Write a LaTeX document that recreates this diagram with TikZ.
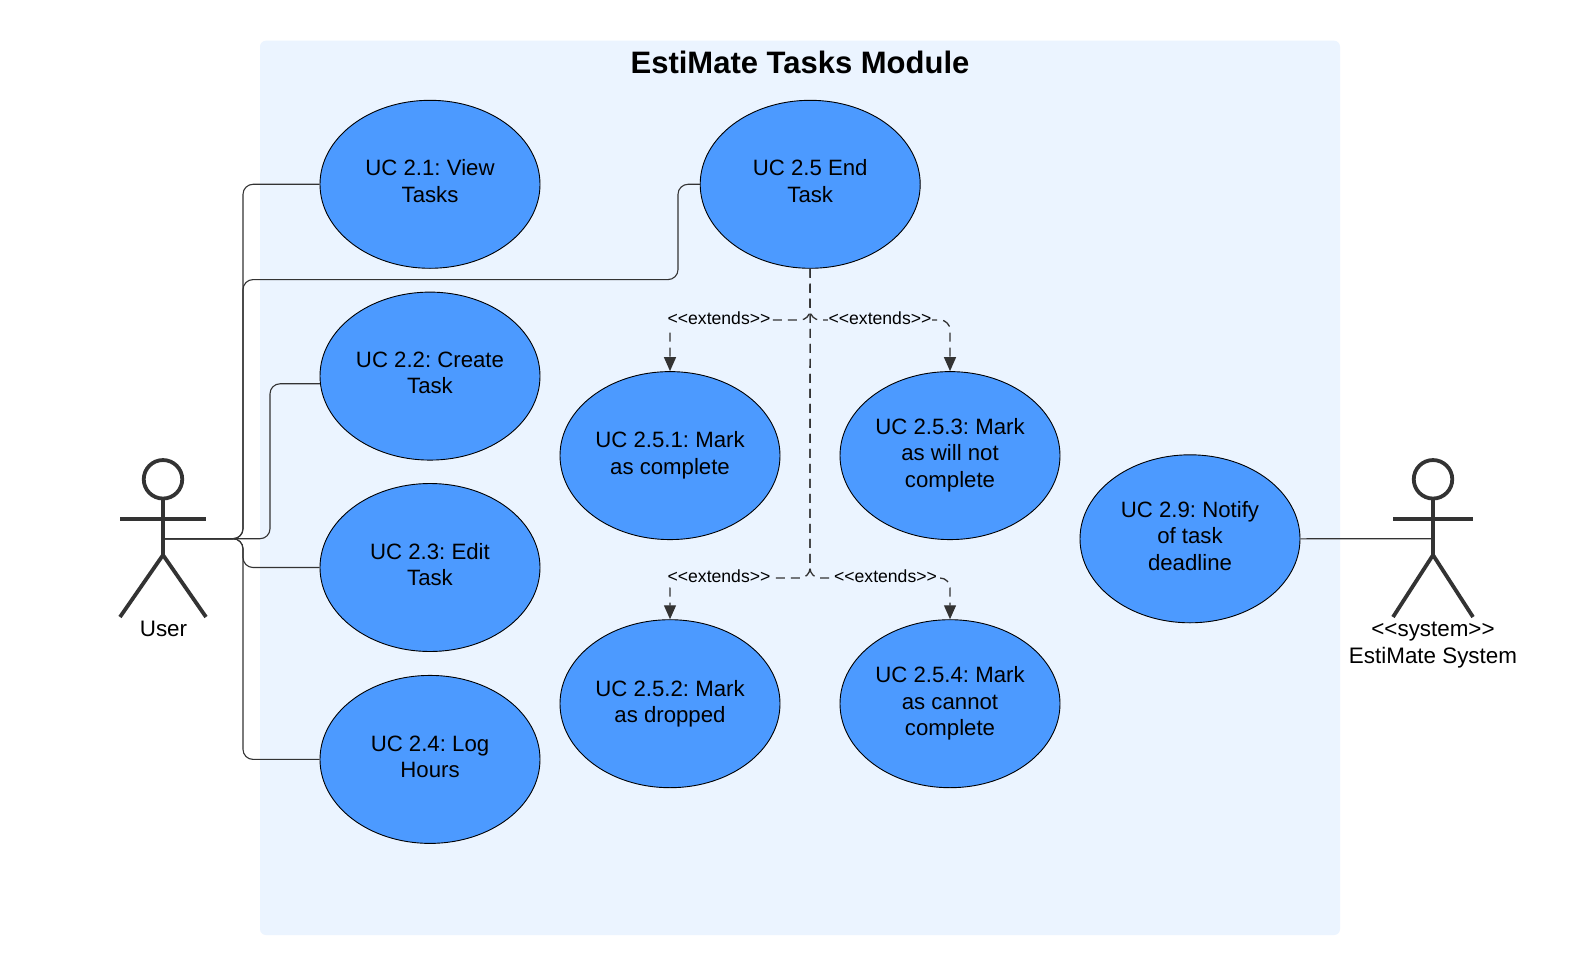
\documentclass[tikz,border=0pt]{standalone}
\usepackage{fontspec}
\setmainfont{Liberation Sans}
\usetikzlibrary{shapes.geometric,arrows.meta}
\definecolor{panelc}{HTML}{EBF4FF}
\definecolor{ucblue}{HTML}{4C9AFF}
\definecolor{inkc}{HTML}{333333}
\tikzset{
  uc/.style={ellipse,draw=black,line width=0.9pt,fill=ucblue,minimum width=220pt,minimum height=168pt,inner sep=0pt},
  uct/.style={align=center,inner sep=0pt,text=black,font=\frenchspacing\fontsize{22.2}{26.5}\selectfont},
  conn/.style={draw=inkc,line width=1.1pt,rounded corners=10pt},
  ext/.style={draw=inkc,line width=1.3pt,rounded corners=10pt,dash pattern=on 9pt off 6pt},
  extarrow/.style={ext,-{Triangle[length=14pt,width=12pt,fill=inkc]}},
  extlabel/.style={fill=panelc,inner xsep=1pt,inner ysep=3pt,font=\fontsize{17.6}{20}\selectfont,text=black},
  limb/.style={draw=inkc,line width=3.8pt},
  actortext/.style={font=\fontsize{22.4}{26.5}\selectfont,align=center,text=black,inner sep=0pt},
}
\newcommand{\ltlt}{{<}{<}}
\newcommand{\gtgt}{{>}{>}}
\begin{document}
\begin{tikzpicture}[x=1pt,y=-1pt]
\useasboundingbox (0,0) rectangle (1594,976);
\fill[white] (0,0) rectangle (1594,976);
\fill[panelc,rounded corners=6pt] (260,40.7) rectangle (1340,935);
\node[font=\bfseries\fontsize{31}{36}\selectfont,inner sep=0pt] (title) at (800,62.5) {EstiMate Tasks Module};

% positions
\coordinate (uhip) at (163,538.7);
\coordinate (shand) at (1433,538.7);
\coordinate (busa) at (243,538.7);
\coordinate (busb) at (270,538.7);
\coordinate (elbow) at (678,279.6);
\coordinate (j1) at (810,320);
\coordinate (j2) at (810,578);

% use cases
\node[uc,label={[uct,yshift=3.3pt]center:{UC 2.1: View\\Tasks}}] (e21) at (430,184.3) {};
\node[uc,label={[uct,yshift=3pt]center:{UC 2.2: Create\\Task}}] (e22) at (430,376.1) {};
\node[uc,label={[uct,yshift=3pt]center:{UC 2.3: Edit\\Task}}] (e23) at (430,567.5) {};
\node[uc,label={[uct,yshift=2.5pt]center:{UC 2.4: Log\\Hours}}] (e24) at (430,759.4) {};
\node[uc,label={[uct,yshift=3.3pt]center:{UC 2.5 End\\Task}}] (e25) at (810.2,184.3) {};
\node[uc,label={[uct,yshift=0.5pt]center:{UC 2.5.1: Mark\\as complete}}] (e251) at (670,455.6) {};
\node[uc,label={[uct,yshift=0.5pt]center:{UC 2.5.3: Mark\\as will not\\complete}}] (e253) at (950,455.6) {};
\node[uc,label={[uct]center:{UC 2.5.2: Mark\\as dropped}}] (e252) at (670,703.7) {};
\node[uc,label={[uct]center:{UC 2.5.4: Mark\\as cannot\\complete}}] (e254) at (950,703.7) {};
\node[uc,label={[uct,yshift=3pt]center:{UC 2.9: Notify\\of task\\deadline}}] (e29) at (1190,538.8) {};

% association connectors
\draw[conn] (uhip) -- (busa) -- (busa |- e21.west) -- (e21.west);
\draw[conn] (uhip) -- (busa) -- (busa |- elbow) -- (elbow) -- (elbow |- e25.west) -- (e25.west);
\draw[conn] (uhip) -- (busb) -- (busb |- e22.184) -- (e22.184);
\draw[conn] (uhip) -- (busa) -- (busa |- e23.west) -- (e23.west);
\draw[conn] (uhip) -- (busa) -- (busa |- e24.west) -- (e24.west);
\draw[conn] (e29.east) -- (shand);

% extends connectors
\draw[extarrow] (e25.south) -- (j1) -- (j1 -| e251.north) -- (e251.north);
\draw[extarrow] (e25.south) -- (j1) -- (j1 -| e253.north) -- (e253.north);
\draw[extarrow] (e25.south) -- (j2) -- (j2 -| e252.north) -- (e252.north);
\draw[extarrow] (e25.south) -- (j2) -- (j2 -| e254.north) -- (e254.north);
\node[extlabel] (l1) at (719,318) {\ltlt extends\gtgt};
\node[extlabel] (l2) at (880,318) {\ltlt extends\gtgt};
\node[extlabel] (l3) at (719,576) {\ltlt extends\gtgt};
\node[extlabel] (l4) at (885.5,576) {\ltlt extends\gtgt};

% user actor
\node[circle,draw=inkc,line width=3.8pt,fill=white,minimum size=38.5pt,inner sep=0pt] (uhead) at (163,479.3) {};
\coordinate (ucrotch) at (163,555);
\coordinate (ula) at (120,519);
\coordinate (ura) at (206,519);
\coordinate (ull) at (120,617);
\coordinate (url) at (206,617);
\draw[limb] (uhead.south) -- (ucrotch);
\draw[limb] (ula) -- (ura);
\draw[limb] (ull) -- (ucrotch) -- (url);
\node[actortext] (ulabel) at (163.5,629) {User};

% system actor
\node[circle,draw=inkc,line width=3.8pt,fill=white,minimum size=38.5pt,inner sep=0pt] (shead) at (1433,479.3) {};
\coordinate (scrotch) at (1433,555);
\coordinate (sla) at (1393,519);
\coordinate (sra) at (1473,519);
\coordinate (sll) at (1393,617);
\coordinate (srl) at (1473,617);
\draw[limb] (shead.south) -- (scrotch);
\draw[limb] (sla) -- (sra);
\draw[limb] (sll) -- (scrotch) -- (srl);
\node[actortext,anchor=north] (slabel) at (1433,622) {\ltlt system\gtgt\\EstiMate System};
\end{tikzpicture}
\end{document}
